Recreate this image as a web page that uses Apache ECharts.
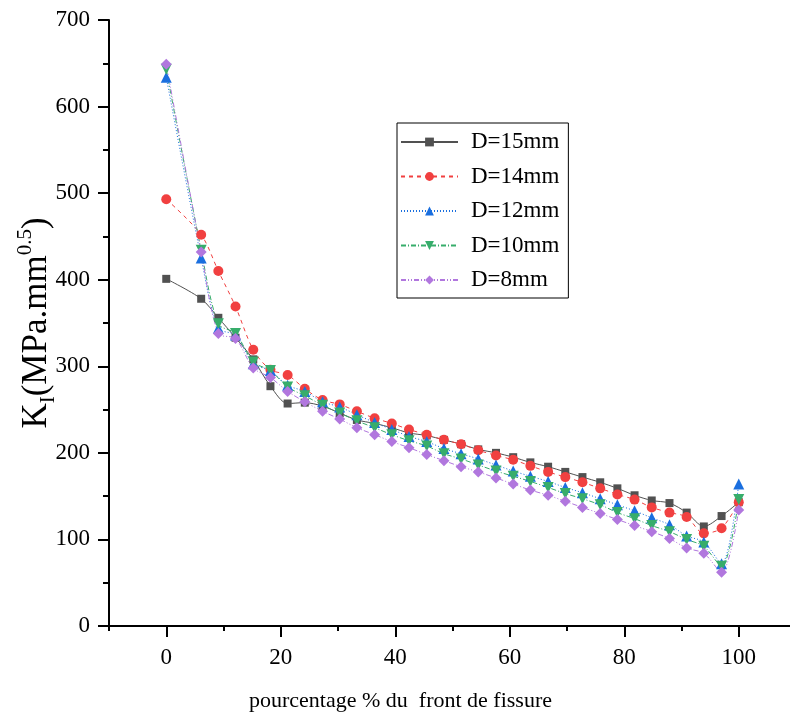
<!DOCTYPE html>
<html>
<head>
<meta charset="utf-8">
<script src="https://cdn.jsdelivr.net/npm/echarts@6/dist/echarts.min.js"></script>
<style>
  html, body { margin: 0; padding: 0; background: #ffffff; }
  #chart { width: 790px; height: 722px; }
</style>
</head>
<body>
<div id="chart"></div>
<script>
// Position along the crack front (%)
const positions = [0, 6.1, 9.1, 12.1, 15.2, 18.2, 21.2, 24.2, 27.3, 30.3, 33.3, 36.4, 39.4, 42.4, 45.5,
  48.5, 51.5, 54.5, 57.6, 60.6, 63.6, 66.7, 69.7, 72.7, 75.8, 78.8, 81.8, 84.8, 87.9, 90.9, 93.9, 97.0, 100];

// Stress intensity factor K_I (MPa.mm^0.5) for each diameter
const kD15 = [401, 378, 356, 333, 308, 277, 257, 258, 254, 246, 238, 234, 229, 223, 220,
  215, 210, 204, 200, 195, 189, 184, 178, 172, 166, 159, 151, 145, 142, 131, 115, 127, 143];
const kD14 = [493, 452, 410, 369, 319, 296, 290, 274, 261, 256, 248, 240, 234, 227, 221,
  215, 210, 203, 197, 192, 185, 178, 172, 166, 159, 152, 146, 137, 131, 126, 107, 113, 143];
const kD12 = [634, 425, 344, 336, 303, 295, 278, 271, 259, 253, 244, 235, 227, 219, 213,
  205, 199, 193, 186, 179, 173, 167, 160, 154, 147, 140, 133, 125, 117, 104, 97, 72, 164];
const kD10 = [643, 434, 349, 338, 305, 295, 276, 266, 255, 246, 237, 229, 221, 214, 208,
  199, 193, 186, 179, 173, 167, 160, 153, 147, 140, 131, 124, 116, 109, 100, 92, 69, 146];
const kD8 = [649, 432, 338, 332, 298, 287, 271, 259, 248, 239, 229, 221, 213, 206, 198,
  191, 184, 178, 171, 164, 157, 151, 144, 137, 130, 123, 116, 109, 101, 90, 84, 62, 134];

const seriesNames = ['D=15mm', 'D=14mm', 'D=12mm', 'D=10mm', 'D=8mm'];
const xMajorTicks = [0, 20, 40, 60, 80, 100];

const FONT = "'Liberation Serif', 'Times New Roman', serif";
const toPairs = (ys) => positions.map((x, i) => [x, ys[i]]);

// Per-series look: colour, marker, dash pattern
const looks = [
  { values: kD15, color: '#515151', symbol: 'rect', size: 8, rotate: 0, dash: 'solid' },
  { values: kD14, color: '#F14040', symbol: 'circle', size: 10, rotate: 0, dash: [4, 4] },
  { values: kD12, color: '#1A6FDF', symbol: 'triangle', size: 11, rotate: 0, dash: [1, 2] },
  { values: kD10, color: '#37AD6B', symbol: 'triangle', size: 11, rotate: 180, dash: [5, 2, 1, 2] },
  { values: kD8, color: '#B177DE', symbol: 'diamond', size: 11, rotate: 0, dash: [5, 2, 1, 2, 1, 2] }
];

const chart = echarts.init(document.getElementById('chart'), null, { renderer: 'canvas' });

const option = {
  animation: false,
  backgroundColor: '#ffffff',
  textStyle: { fontFamily: FONT },
  grid: { left: 109, top: 20, width: 687, height: 606, containLabel: false, outerBoundsMode: 'none' },
  legend: {
    left: 397,
    top: 123,
    orient: 'vertical',
    data: seriesNames,
    itemWidth: 57,
    itemHeight: 11,
    itemGap: 10.5,
    padding: [7, 9, 6, 3],
    borderColor: '#000000',
    borderWidth: 1,
    backgroundColor: '#ffffff',
    textStyle: { fontFamily: FONT, fontSize: 23, color: '#000000', lineHeight: 24, padding: [0, 0, 0, 8] }
  },
  xAxis: [
    {
      type: 'value',
      min: -10,
      max: 110,
      interval: 10,
      name: 'pourcentage % du  front de fissure',
      nameLocation: 'middle',
      nameGap: 64,
      nameMoveOverlap: false,
      nameTextStyle: { fontFamily: FONT, fontSize: 22, color: '#000000', padding: [0, 104, 0, 0] },
      axisLine: { show: true, onZero: false, lineStyle: { color: '#000000', width: 2 } },
      axisTick: { show: true, inside: false, length: 5, lineStyle: { color: '#000000', width: 2 } },
      axisLabel: {
        margin: 20,
        fontFamily: FONT,
        fontSize: 23,
        color: '#000000',
        formatter: (v) => (xMajorTicks.indexOf(v) >= 0 ? String(v) : '')
      },
      splitLine: { show: false }
    },
    {
      type: 'value',
      min: -10,
      max: 110,
      position: 'bottom',
      axisLine: { show: false },
      axisTick: { show: true, inside: false, length: 11, customValues: xMajorTicks, lineStyle: { color: '#000000', width: 2 } },
      axisLabel: { show: false },
      splitLine: { show: false }
    }
  ],
  yAxis: {
    type: 'value',
    min: 0,
    max: 700,
    interval: 100,
    name: '{k|K}{sub|I}{k|(MPa.mm}{sup|0.5}{k|)}',
    nameLocation: 'middle',
    nameGap: 50,
    nameMoveOverlap: false,
    nameTextStyle: {
      color: '#000000',
      rich: {
        k: { fontFamily: FONT, fontSize: 35, color: '#000000', lineHeight: 44 },
        sub: { fontFamily: FONT, fontSize: 21, color: '#000000', verticalAlign: 'bottom', lineHeight: 20 },
        sup: { fontFamily: FONT, fontSize: 21, color: '#000000', verticalAlign: 'top', lineHeight: 20 }
      }
    },
    axisLine: { show: true, onZero: false, lineStyle: { color: '#000000', width: 2 } },
    axisTick: { show: true, inside: false, length: 11, lineStyle: { color: '#000000', width: 2 } },
    minorTick: { show: true, splitNumber: 2, length: 6, lineStyle: { color: '#000000', width: 2 } },
    axisLabel: { margin: 19, fontFamily: FONT, fontSize: 23, color: '#000000' },
    splitLine: { show: false }
  },
  series: looks.map((s, i) => ({
    name: seriesNames[i],
    type: 'line',
    xAxisIndex: 0,
    data: toPairs(s.values),
    smooth: 0.3,
    symbol: s.symbol,
    symbolSize: s.size,
    symbolRotate: s.rotate,
    showAllSymbol: true,
    clip: false,
    itemStyle: { color: s.color, borderWidth: 0 },
    lineStyle: { color: s.color, width: 1, type: s.dash }
  }))
};

chart.setOption(option);
</script>
</body>
</html>
